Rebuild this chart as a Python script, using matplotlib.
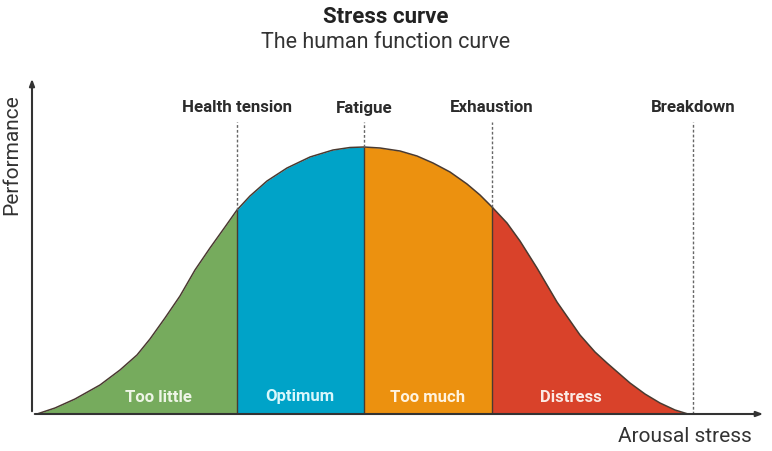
import matplotlib
matplotlib.use("Agg")
import matplotlib.pyplot as plt
import numpy as np

# --- données ---
arousal = [5, 23, 43, 68, 88, 105, 118, 133, 148, 163, 178, 193, 205, 218, 235,
           255, 278, 301, 318, 332, 348, 368, 385, 401, 418, 435, 448, 460, 475,
           488, 505, 525, 548, 563, 575, 598, 613, 628, 643, 656]
performance = [0, 6, 15, 29, 44, 59, 75, 96, 118, 144, 166, 187, 204, 218, 233,
               246, 257, 264, 266.5, 267, 266, 263, 258, 251, 242, 230, 219, 207, 191,
               173, 146, 112, 79, 62, 51, 31, 20, 11, 4, 0]

zones = ["Too little", "Optimum", "Too much", "Distress"]
zone_bounds = [5, 205, 332, 460, 656]
zone_label_x = [126, 268, 396, 539]
zone_colors = ["#76AB5D", "#00A3C8", "#EC910F", "#D9422A"]
zone_text_colors = ["#EEF5E6", "#D9F7FB", "#FFF3DF", "#FBE9E4"]

markers = ["Health tension", "Fatigue", "Exhaustion", "Breakdown"]
marker_x = [205, 332, 460, 661]

font = ["Roboto", "DejaVu Sans"]

fig = plt.figure(figsize=(7.72, 4.51), dpi=100)
ax = fig.add_axes([32 / 772, 37 / 451, 736 / 772, 338 / 451])
ax.set_xlim(0, 736)
ax.set_ylim(0, 338)
ax.axis("off")

x = np.array(arousal)
y = np.array(performance)

# zones colorées
for i, name in enumerate(zones):
    lo, hi = zone_bounds[i], zone_bounds[i + 1]
    m = (x >= lo) & (x <= hi)
    ax.fill_between(x[m], 0, y[m], color=zone_colors[i], lw=0, zorder=2)
    ax.text(zone_label_x[i], 17, name, ha="center", va="center",
            fontsize=12, fontweight="bold", color=zone_text_colors[i],
            family=font, zorder=5)

ax.plot(x, y, color="#4A3A30", lw=1.1, zorder=3)

# séparations et lignes pointillées
for name, mx in zip(markers, marker_x):
    top = np.interp(mx, x, y)
    if mx < zone_bounds[-1]:
        ax.plot([mx, mx], [0, top], color="#4A3A30", lw=1.0, zorder=3)
    ax.plot([mx, mx], [top, 292], color="#666666", lw=1.0,
            linestyle=(0, (2, 1.5)), zorder=3)
    ax.text(mx, 306, name, ha="center", va="center", fontsize=12.2,
            fontweight="bold", color="#2B2B2B", family=font)

# axes avec flèches
ax.annotate("", xy=(734, 0), xytext=(0, 0),
            arrowprops=dict(arrowstyle="-|>,head_length=0.4,head_width=0.15",
                            color="#333333", lw=1.5), zorder=4)
ax.annotate("", xy=(0, 338), xytext=(0, 0),
            arrowprops=dict(arrowstyle="-|>,head_length=0.4,head_width=0.15",
                            color="#333333", lw=1.5), zorder=4)

fig.text(386 / 772, 1 - 17 / 451, "Stress curve", ha="center", va="center",
         fontsize=16, fontweight="bold", color="#222222", family=font)
fig.text(386 / 772, 1 - 42 / 451, "The human function curve", ha="center",
         va="center", fontsize=15.5, color="#333333", family=font)
fig.text(12 / 772, 1 - 155 / 451, "Performance", ha="center", va="center",
         rotation=90, fontsize=15, color="#333333", family=font)
fig.text(752 / 772, 1 - 436 / 451, "Arousal stress", ha="right", va="center",
         fontsize=15, color="#333333", family=font)

fig.savefig("out.png", dpi=100, facecolor="white")
